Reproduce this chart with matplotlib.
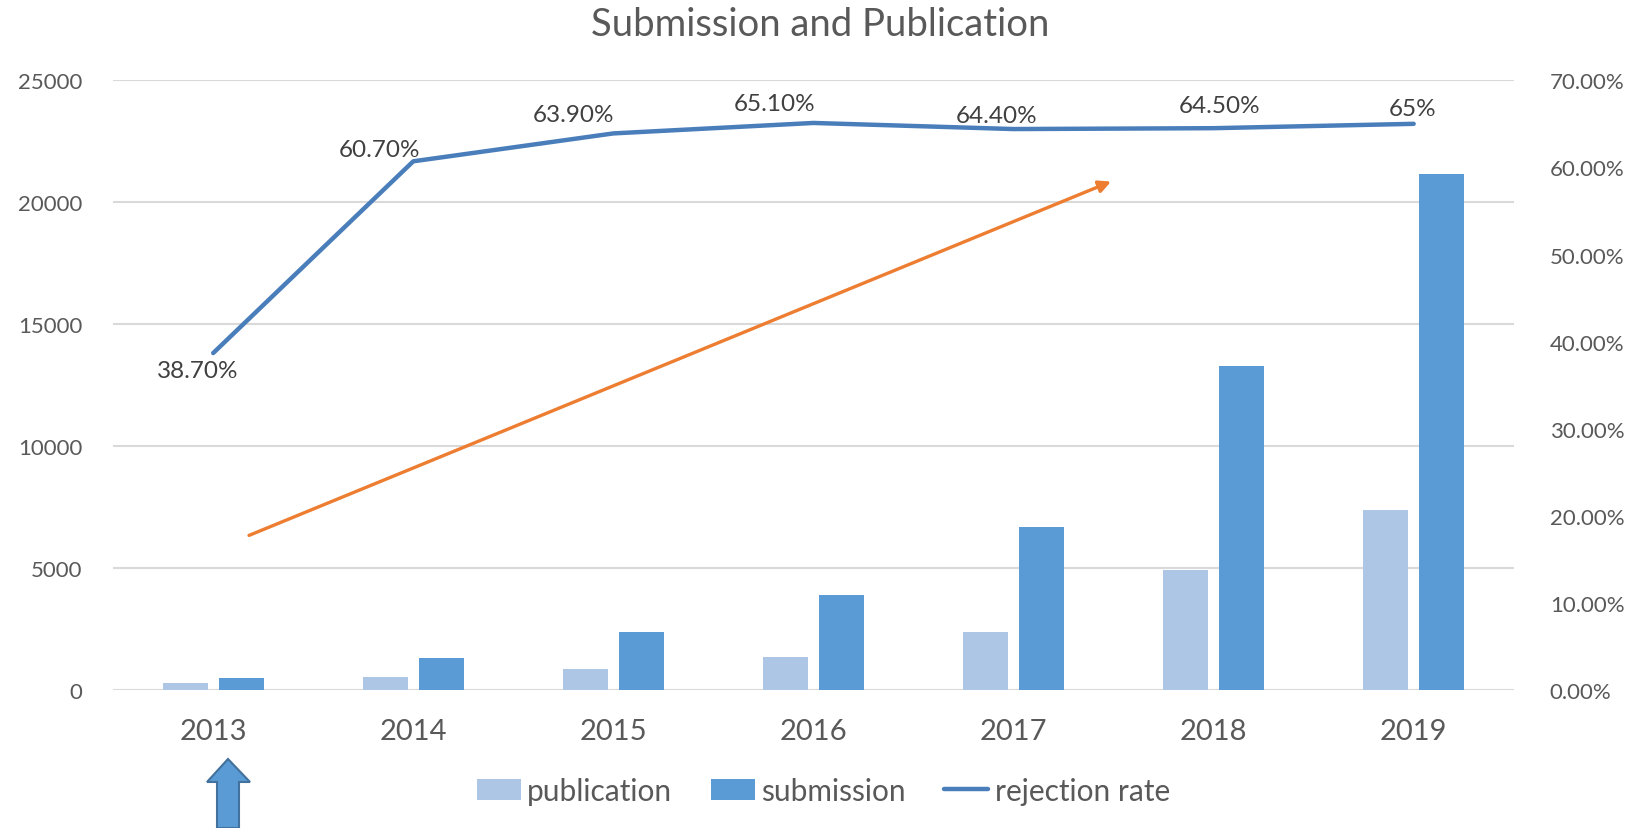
import matplotlib.pyplot as plt
import numpy as np
from matplotlib.patches import Polygon

years = ["2013", "2014", "2015", "2016", "2017", "2018", "2019"]
publication = [300, 560, 860, 1370, 2400, 4930, 7380]
submission = [510, 1330, 2400, 3900, 6690, 13290, 21140]
rejection = [0.387, 0.607, 0.639, 0.651, 0.644, 0.645, 0.65]
rejection_labels = ["38.70%", "60.70%", "63.90%", "65.10%", "64.40%", "64.50%", "65%"]

# label offsets in pixels (manually dragged in the original)
label_offsets = [(-16, -17), (-34, 12), (-40, 19), (-39, 19), (-17, 14), (6, 23), (-1, 15)]

plt.rcParams['font.family'] = ['Lato', 'DejaVu Sans']
grey = "#595959"

fig = plt.figure(figsize=(16.4, 8.29), dpi=100)
ax = fig.add_axes([0.069, 0.166, 0.854, 0.736])
ax2 = ax.twinx()

x = np.arange(len(years))
w = 0.225
ax.bar(x - 0.14, publication, w, color="#aec6e6", label="publication", zorder=2)
ax.bar(x + 0.14, submission, w, color="#5b9bd5", label="submission", zorder=2)

ax.set_xlim(-0.5, 6.5)
ax.set_ylim(0, 25000)
ax.set_yticks(range(0, 25001, 5000))
ax.set_xticks(x)
ax.set_xticklabels(years)
ax.grid(axis='y', color="#d9d9d9", linewidth=1.5, zorder=0)
ax.set_axisbelow(True)
for s in ax.spines.values():
    s.set_visible(False)
ax.tick_params(axis='y', length=0, labelsize=16, colors=grey, pad=22)
ax.tick_params(axis='x', length=0, labelsize=21, colors=grey, pad=20)

ax2.plot(x, rejection, color="#4a7ebb", linewidth=3.2, label="rejection rate", zorder=3,
         solid_capstyle='round')
ax2.set_ylim(0, 0.7)
ax2.set_yticks(np.arange(0, 0.71, 0.1))
ax2.set_yticklabels(["%.2f%%" % (v * 100) for v in np.arange(0, 0.71, 0.1)])
ax2.tick_params(axis='y', length=0, labelsize=16, colors=grey, pad=26)
for s in ax2.spines.values():
    s.set_visible(False)

for i, (v, t) in enumerate(zip(rejection, rejection_labels)):
    ax2.annotate(t, (x[i], v), xytext=label_offsets[i], textcoords='offset pixels',
                 ha='center', va='center', fontsize=17.5, color="#404040")

# orange trend arrow
ax.annotate("", xy=(0.7125, 0.834), xytext=(0.097, 0.254), xycoords='axes fraction',
            textcoords='axes fraction',
            arrowprops=dict(arrowstyle='-|>', color="#ed7d31", lw=2.4, mutation_scale=18,
                            shrinkA=0, shrinkB=0))

fig.suptitle("Submission and Publication", y=0.970, va='center', fontsize=27.5, color=grey)

h1, l1 = ax.get_legend_handles_labels()
h2, l2 = ax2.get_legend_handles_labels()
fig.legend(h1 + h2, l1 + l2, loc='center', bbox_to_anchor=(0.502, 0.045), ncol=3,
           frameon=False, fontsize=21.5, labelcolor=grey, handlelength=1.47,
           handletextpad=0.21, columnspacing=1.3)

# blue block arrow below 2013
W, H = 1640, 829
pts = [(228, 760), (250, 783), (239, 783), (239, 829), (217, 829), (217, 783), (207, 783)]
fig.patches.append(Polygon([(px / W, 1 - py / H) for px, py in pts], closed=True,
                           transform=fig.transFigure, facecolor="#5b9bd5",
                           edgecolor="#41719c", linewidth=1.5))

fig.savefig("out.png", dpi=100)
